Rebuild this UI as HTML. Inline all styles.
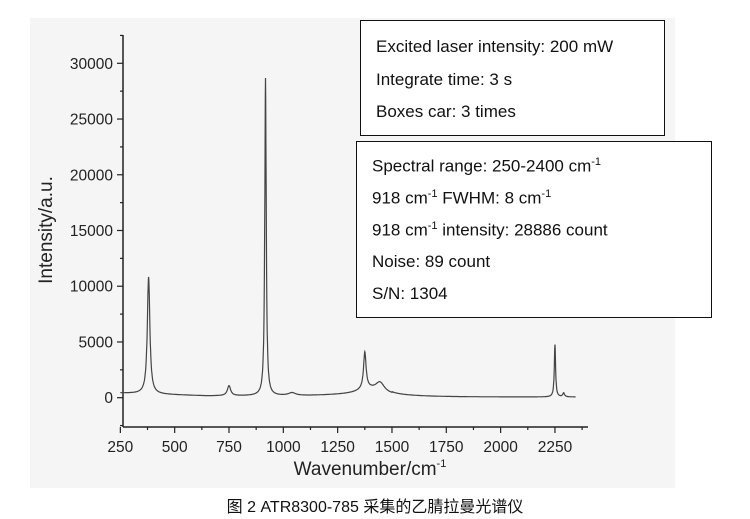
<!DOCTYPE html>
<html><head><meta charset="utf-8"><style>
body{margin:0;background:#fff;width:750px;height:519px;overflow:hidden;font-family:"Liberation Sans",sans-serif}
.box{position:absolute;border:1.5px solid #111;background:#fff;font-family:"Liberation Sans","Noto Sans CJK SC",sans-serif;font-size:17px;color:#111}
.box div{position:absolute;left:15px;white-space:nowrap}
sup{font-size:11px}
</style></head><body>
<svg width="750" height="519" style="position:absolute;left:0;top:0" font-family="Liberation Sans, sans-serif">
<rect x="30" y="18" width="645" height="470" fill="#f5f5f5"/>
<g stroke="#222" stroke-width="1.5" fill="none">
<line x1="123" y1="35" x2="123" y2="427"/>
<line x1="123" y1="427" x2="588" y2="427"/>
</g>
<g id="ticks" stroke="#222" stroke-width="1.2"></g>
<g id="lbl" font-size="15.5" fill="#222"></g>
<text x="52" y="230" font-size="19" fill="#222" transform="rotate(-90 52 230)" text-anchor="middle">Intensity/a.u.</text>
<text x="370" y="475" font-size="19" fill="#222" text-anchor="middle">Wavenumber/cm<tspan font-size="11" dy="-8">-1</tspan></text>
<path id="sp" fill="none" stroke="#444" stroke-width="1.2"/>
<text x="375" y="512" font-size="16" fill="#111" text-anchor="middle" font-family="Liberation Sans, Noto Sans CJK SC, sans-serif">图 2 ATR8300-785 采集的乙腈拉曼光谱仪</text>
</svg>
<div class="box" style="left:360px;top:20px;width:303px;height:114px">
<div style="top:16px">Excited laser intensity: 200 mW</div>
<div style="top:49px">Integrate time: 3 s</div>
<div style="top:81px">Boxes car: 3 times</div>
</div>
<div class="box" style="left:356px;top:141px;width:354px;height:175px">
<div style="top:14px">Spectral range: 250-2400 cm<sup>-1</sup></div>
<div style="top:46px">918 cm<sup>-1</sup> FWHM: 8 cm<sup>-1</sup></div>
<div style="top:78px">918 cm<sup>-1</sup> intensity: 28886 count</div>
<div style="top:110px">Noise: 89 count</div>
<div style="top:142px">S/N: 1304</div>
</div>
<script>
function X(v){return 229+(v-750)*0.2173;}
function Y(i){return 397.7-i*(334.4/30000);}
var t='',l='';
for(var v=250;v<=2375;v+=125){var big=(v-250)%250==0;t+='<line x1="'+X(v)+'" y1="427" x2="'+X(v)+'" y2="'+(big?433:430)+'"/>';
if(big)l+='<text x="'+X(v)+'" y="452" text-anchor="middle">'+v+'</text>';}
for(var i=-2500;i<=32500;i+=2500){var big=i%5000==0;t+='<line x1="123" y1="'+Y(i)+'" x2="'+(big?117:120)+'" y2="'+Y(i)+'"/>';
if(big&&i>=0&&i<=30000)l+='<text x="113" y="'+(Y(i)+5.5)+'" text-anchor="end">'+i+'</text>';}
document.getElementById('ticks').innerHTML=t;document.getElementById('lbl').innerHTML=l;
var pk=[[380,10500,7],[750,900,9],[918,28500,4],[1040,250,20],[1375,3300,7],[1445,900,25],[1390,500,60],[2250,4700,3.5],[2290,350,5]];
function base(v){var b=420-260*Math.min(1,(v-250)/400);if(v>650)b=160;if(v>1000)b=160+100*Math.exp(-Math.pow((v-1330)/180,2));if(v>1500)b=60+200*Math.exp(-(v-1500)/150);return b;}
var d='';
for(var v=250;v<=2345;v+=1){var s=base(v);for(var k=0;k<pk.length;k++){var p=pk[k];var u=(v-p[0])/p[2];s+=p[1]/(1+u*u);}
d+=(v==250?'M':'L')+X(v).toFixed(1)+' '+Y(s).toFixed(1);}
document.getElementById('sp').setAttribute('d',d);
</script>
</body></html>
